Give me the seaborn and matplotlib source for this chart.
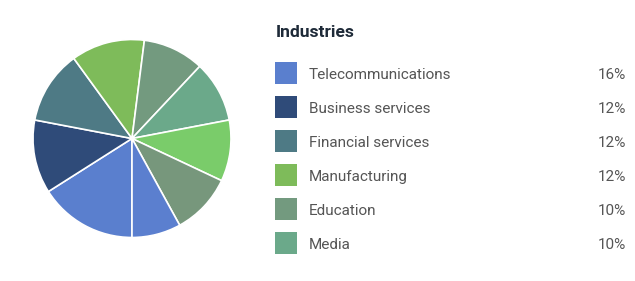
import matplotlib
matplotlib.use("Agg")
import matplotlib.pyplot as plt
from matplotlib.patches import Rectangle
import seaborn as sns

sns.set_theme(style="white")
plt.rcParams['font.family'] = ['Roboto', 'DejaVu Sans']

# Data
categories = ["Telecommunications", "Business services", "Financial services",
              "Manufacturing", "Education", "Media",
              "Category 7", "Category 8", "Category 9"]
shares = [16, 12, 12, 12, 10, 10, 10, 10, 8]
colors = ["#5A7FCE", "#2F4B79", "#4E7A85", "#7EBB5A", "#739A7F",
          "#6BA98A", "#7ACC6A", "#77977C", "#5B7FCF"]
legend_count = 6
legend_title = "Industries"

W, H = 635, 281
fig = plt.figure(figsize=(W / 100, H / 100), dpi=100)
fig.patch.set_facecolor("white")

# Pie axes: center (132,138.5), radius 99 px
cx, cy, r = 132, 138.5, 99
ax = fig.add_axes([(cx - r) / W, (H - cy - r) / H, 2 * r / W, 2 * r / H])
ax.pie(shares, colors=colors, startangle=270, counterclock=False, radius=1,
       wedgeprops=dict(edgecolor="white", linewidth=1.2))
ax.set_xlim(-1, 1)
ax.set_ylim(-1, 1)
ax.set_aspect("equal")
ax.axis("off")

# Legend panel drawn in pixel coordinates
lg = fig.add_axes([0, 0, 1, 1])
lg.set_xlim(0, W)
lg.set_ylim(H, 0)
lg.axis("off")
lg.patch.set_alpha(0)

lg.text(275.5, 36.7, legend_title, fontsize=12.6, fontweight="bold", color="#1E2A38",
        va="baseline", ha="left")

y0, dy = 73, 34
for i in range(legend_count):
    yc = y0 + i * dy
    lg.add_patch(Rectangle((275, yc - 11), 22, 22, facecolor=colors[i], edgecolor="none"))
    lg.text(309, yc + 6, categories[i], fontsize=11, color="#555555", va="baseline", ha="left")
    lg.text(626, yc + 6, f"{shares[i]}%", fontsize=11, color="#555555", va="baseline", ha="right")

fig.savefig("out.png", dpi=100, facecolor="white")
